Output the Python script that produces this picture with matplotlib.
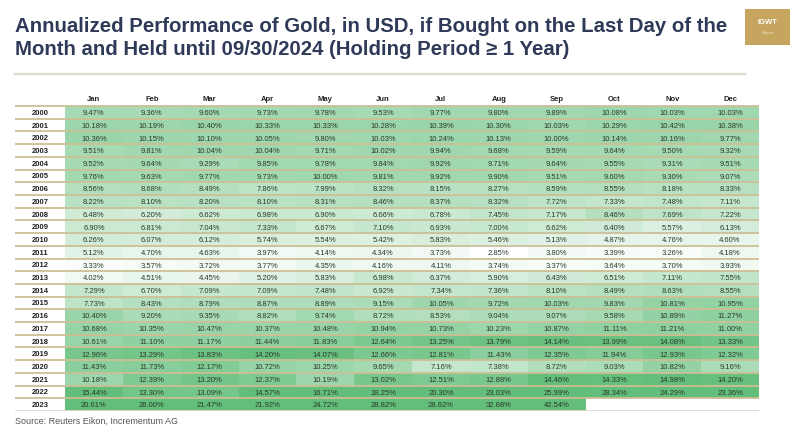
import numpy as np
import matplotlib
matplotlib.use("Agg")
import matplotlib.pyplot as plt
from matplotlib.colors import LinearSegmentedColormap, Normalize
from matplotlib.patches import Rectangle
from matplotlib.lines import Line2D
from matplotlib import font_manager

# Data: annualized gold performance (%), rows = purchase year, cols = purchase month
months = ["Jan", "Feb", "Mar", "Apr", "May", "Jun", "Jul", "Aug", "Sep", "Oct", "Nov", "Dec"]
years = list(range(2000, 2024))

y2000 = [9.47, 9.36, 9.60, 9.73, 9.78, 9.53, 9.77, 9.80, 9.89, 10.08, 10.03, 10.03]
y2001 = [10.18, 10.19, 10.40, 10.33, 10.33, 10.28, 10.39, 10.30, 10.03, 10.29, 10.42, 10.38]
y2002 = [10.36, 10.15, 10.10, 10.05, 9.80, 10.03, 10.24, 10.13, 10.00, 10.14, 10.16, 9.77]
y2003 = [9.51, 9.81, 10.04, 10.04, 9.71, 10.02, 9.94, 9.68, 9.59, 9.64, 9.50, 9.32]
y2004 = [9.52, 9.64, 9.29, 9.85, 9.78, 9.84, 9.92, 9.71, 9.64, 9.55, 9.31, 9.51]
y2005 = [9.76, 9.63, 9.77, 9.73, 10.00, 9.81, 9.92, 9.90, 9.51, 9.60, 9.30, 9.07]
y2006 = [8.56, 8.68, 8.49, 7.86, 7.99, 8.32, 8.15, 8.27, 8.59, 8.55, 8.18, 8.33]
y2007 = [8.22, 8.10, 8.20, 8.10, 8.31, 8.46, 8.37, 8.32, 7.72, 7.33, 7.48, 7.11]
y2008 = [6.48, 6.20, 6.62, 6.98, 6.90, 6.66, 6.78, 7.45, 7.17, 8.46, 7.69, 7.22]
y2009 = [6.90, 6.81, 7.04, 7.33, 6.67, 7.10, 6.93, 7.00, 6.62, 6.40, 5.57, 6.13]
y2010 = [6.26, 6.07, 6.12, 5.74, 5.54, 5.42, 5.83, 5.46, 5.13, 4.87, 4.76, 4.60]
y2011 = [5.12, 4.70, 4.63, 3.97, 4.14, 4.34, 3.73, 2.85, 3.80, 3.39, 3.26, 4.18]
y2012 = [3.33, 3.57, 3.72, 3.77, 4.35, 4.16, 4.11, 3.74, 3.37, 3.64, 3.70, 3.93]
y2013 = [4.02, 4.51, 4.45, 5.20, 5.83, 6.98, 6.37, 5.90, 6.43, 6.51, 7.11, 7.55]
y2014 = [7.29, 6.70, 7.09, 7.09, 7.48, 6.92, 7.34, 7.36, 8.10, 8.49, 8.63, 8.55]
y2015 = [7.73, 8.43, 8.79, 8.87, 8.89, 9.15, 10.05, 9.72, 10.03, 9.83, 10.81, 10.95]
y2016 = [10.40, 9.20, 9.35, 8.82, 9.74, 8.72, 8.53, 9.04, 9.07, 9.58, 10.89, 11.27]
y2017 = [10.68, 10.35, 10.47, 10.37, 10.48, 10.94, 10.73, 10.23, 10.87, 11.11, 11.21, 11.00]
y2018 = [10.61, 11.10, 11.17, 11.44, 11.83, 12.64, 13.25, 13.79, 14.14, 13.99, 14.08, 13.33]
y2019 = [12.96, 13.29, 13.83, 14.20, 14.07, 12.66, 12.81, 11.43, 12.35, 11.94, 12.93, 12.32]
y2020 = [11.43, 11.73, 12.17, 10.72, 10.25, 9.65, 7.16, 7.38, 8.72, 9.03, 10.82, 9.16]
y2021 = [10.18, 12.39, 13.20, 12.37, 10.19, 13.02, 12.51, 12.88, 14.46, 14.33, 14.98, 14.20]
y2022 = [15.44, 13.30, 13.09, 14.57, 16.71, 18.25, 20.30, 23.03, 25.99, 28.34, 24.29, 23.36]
y2023 = [20.61, 26.00, 21.47, 21.92, 24.72, 28.82, 28.62, 32.68, 42.54, None, None, None]

rows = [y2000, y2001, y2002, y2003, y2004, y2005, y2006, y2007, y2008, y2009, y2010, y2011,
        y2012, y2013, y2014, y2015, y2016, y2017, y2018, y2019, y2020, y2021, y2022, y2023]
vals = np.array([[np.nan if v is None else v for v in r] for r in rows], dtype=float)

# fonts
names = {f.name for f in font_manager.fontManager.ttflist}
body_font = "Liberation Sans" if "Liberation Sans" in names else "DejaVu Sans"
plt.rcParams["font.family"] = [body_font, "DejaVu Sans"]

W, H = 800, 427
fig = plt.figure(figsize=(W / 100, H / 100), dpi=100)
fig.patch.set_facecolor("white")

def fx(px):
    return px / W

def fy(py):
    return 1 - py / H

# title
fig.text(fx(15), fy(17),
         "Annualized Performance of Gold, in USD, if Bought on the Last Day of the\n"
         "Month and Held until 09/30/2024 (Holding Period \u2265 1 Year)",
         ha="left", va="top", fontsize=14.7, fontweight="bold", color="#2f3a58",
         linespacing=1.25)

# logo box
fig.add_artist(Rectangle((fx(745), fy(46)), fx(790) - fx(745), fy(10) - fy(46),
                         transform=fig.transFigure, facecolor="#c6a55f", edgecolor="none"))
fig.text(fx(767.5), fy(23), "IGWT", ha="center", va="center", color="white",
         fontsize=5.5, fontweight="bold")
fig.text(fx(767.5), fy(33), "Report", ha="center", va="center", color="#f4ead3", fontsize=3)

# separator under the title
fig.add_artist(Line2D([fx(15), fx(745)], [fy(75), fy(75)], transform=fig.transFigure,
                      color="#dcd9d0", lw=1.6))

# table
left, right, top, bottom = 15, 759, 92, 412
ax = fig.add_axes([fx(left), fy(bottom), fx(right) - fx(left), fy(top) - fy(bottom)])
row_h = 12.67
hdr = (107 - top) / row_h
col_w = (right - 65) / 12
ycol = (65 - left) / col_w

cmap = LinearSegmentedColormap.from_list("gw", ["#ffffff", "#63be7b"])
cmap.set_bad("white")
norm = Normalize(vmin=2.85, vmax=14.5, clip=True)
ax.pcolormesh(np.arange(13), np.arange(25), np.ma.masked_invalid(vals), cmap=cmap, norm=norm)

ax.set_xlim(-ycol, 12)
ax.set_ylim(24, -hdr)
ax.axis("off")

for j, m in enumerate(months):
    ax.text(j + 0.5, -hdr / 2, m, ha="center", va="center", fontsize=5.5,
            fontweight="bold", color="#222222")

for i, yr in enumerate(years):
    ax.text(-ycol / 2, i + 0.5, str(yr), ha="center", va="center", fontsize=5.5,
            fontweight="bold", color="#222222")
    for j in range(12):
        v = vals[i, j]
        if np.isnan(v):
            continue
        ax.text(j + 0.5, i + 0.52, f"{v:.2f}%", ha="center", va="center",
                fontsize=5.5, color="#2a3a2a")

ax.hlines(np.arange(24), -ycol, 12, color="#cdbf95", lw=1.3)
ax.hlines(24, -ycol, 12, color="#ddd8c8", lw=1.3)

fig.text(fx(15), fy(421), "Source: Reuters Eikon, Incrementum AG", ha="left", va="center",
         fontsize=6.5, color="#555555")

fig.savefig("out.png", dpi=100)
